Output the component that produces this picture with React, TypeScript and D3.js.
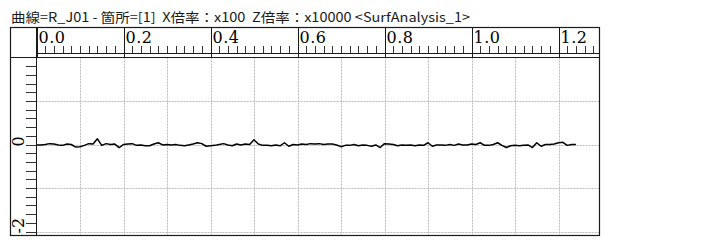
import React from "react";
import * as d3 from "d3";

const TITLE = "曲線=R_J01 - 箇所=[1]  X倍率：x100  Z倍率：x10000 <SurfAnalysis_1>";
const X_LABELS = ["0.0", "0.2", "0.4", "0.6", "0.8", "1.0", "1.2"];
const X_LABEL_VALUES = [0, 0.2, 0.4, 0.6, 0.8, 1.0, 1.2];
const Y_LABELS = ["0", "-2"];
const Y_LABEL_VALUES = [0, -2];
const X_GRID = [0.1, 0.2, 0.3, 0.4, 0.5, 0.6, 0.7, 0.8, 0.9, 1.0, 1.1, 1.2];
const Y_GRID = [1, 0, -1, -2];

const PROFILE_X = [
  0.00, 0.01, 0.02, 0.03, 0.04, 0.05, 0.06, 0.07, 0.08, 0.09,
  0.10, 0.11, 0.12, 0.13, 0.14, 0.15, 0.16, 0.17, 0.18, 0.19,
  0.20, 0.21, 0.22, 0.23, 0.24, 0.25, 0.26, 0.27, 0.28, 0.29,
  0.30, 0.31, 0.32, 0.33, 0.34, 0.35, 0.36, 0.37, 0.38, 0.39,
  0.40, 0.41, 0.42, 0.43, 0.44, 0.45, 0.46, 0.47, 0.48, 0.49,
  0.50, 0.51, 0.52, 0.53, 0.54, 0.55, 0.56, 0.57, 0.58, 0.59,
  0.60, 0.61, 0.62, 0.63, 0.64, 0.65, 0.66, 0.67, 0.68, 0.69,
  0.70, 0.71, 0.72, 0.73, 0.74, 0.75, 0.76, 0.77, 0.78, 0.79,
  0.80, 0.81, 0.82, 0.83, 0.84, 0.85, 0.86, 0.87, 0.88, 0.89,
  0.90, 0.91, 0.92, 0.93, 0.94, 0.95, 0.96, 0.97, 0.98, 0.99,
  1.00, 1.01, 1.02, 1.03, 1.04, 1.05, 1.06, 1.07, 1.08, 1.09,
  1.10, 1.11, 1.12, 1.13, 1.14, 1.15, 1.16, 1.17, 1.18, 1.19,
  1.20, 1.21, 1.22, 1.23, 1.24,
];
const PROFILE_Z = [
  -0.01, -0.01, 0.00, 0.02, 0.01, -0.01, -0.02, 0.01, 0.00, -0.06,
  -0.05, -0.02, 0.02, 0.01, 0.13, -0.02, 0.02, 0.00, 0.01, -0.07,
  0.00, 0.01, 0.02, -0.02, -0.01, -0.03, -0.03, 0.01, 0.04, -0.01,
  0.00, -0.01, 0.00, -0.02, -0.03, -0.01, 0.01, 0.04, 0.02, -0.04,
  -0.03, -0.02, 0.00, 0.02, -0.01, -0.03, 0.01, -0.01, 0.01, 0.00,
  0.11, 0.01, -0.02, -0.02, -0.03, -0.01, -0.03, 0.04, -0.04, 0.00,
  -0.01, 0.01, 0.00, 0.02, 0.01, 0.02, 0.00, 0.01, 0.01, -0.01,
  -0.05, -0.02, -0.02, 0.00, -0.03, -0.01, -0.02, -0.04, -0.01, -0.07,
  0.02, 0.01, 0.00, -0.03, -0.01, -0.02, -0.01, -0.03, -0.01, -0.02,
  0.04, -0.04, -0.01, -0.01, -0.02, 0.00, -0.02, 0.01, -0.01, -0.01,
  0.01, 0.00, 0.04, -0.02, -0.02, 0.00, 0.04, -0.02, -0.07, -0.03,
  -0.02, -0.03, -0.02, -0.01, -0.07, 0.04, -0.04, 0.00, 0.00, 0.01,
  0.04, 0.05, -0.02, 0.00, 0.00,
];

const W = 726;
const H = 248;
const FRAME_L = 10.5;
const FRAME_T = 27.5;
const FRAME_R = 599.5;
const FRAME_B = 235.5;
const RULER_B = 53.5;
const PLOT_T = 57.5;
const PLOT_L = 36.5;

export default function App() {
  const x = d3.scaleLinear().domain([0, 1]).range([PLOT_L, PLOT_L + 435]);
  const y = d3.scaleLinear().domain([2, -2]).range([PLOT_T, PLOT_T + 174]);

  const minorX = d3.range(1, 65).map((i) => i * 0.02).filter((v) => x(v) < FRAME_R - 2);
  const majorX = X_LABEL_VALUES;
  const minorY = d3.range(-10, 10).map((i) => i * 0.2);

  const data = PROFILE_X.map((v, i) => [v, PROFILE_Z[i]] as [number, number]);
  const line = d3
    .line<[number, number]>()
    .x((d) => x(d[0]))
    .y((d) => y(d[1]));

  const ink = "#1a1a1a";
  const grid = "#bdbdbd";

  return (
    <svg
      width={W}
      height={H}
      style={{ position: "absolute", left: 0, top: 0, background: "#fff" }}
    >
      <rect x={0} y={0} width={W} height={H} fill="#fff" />
      <text
        x={11}
        y={22}
        fontFamily="'Noto Sans CJK JP', 'Noto Sans', sans-serif"
        fontSize={13}
        fill={ink}
        textLength={459}
        lengthAdjust="spacingAndGlyphs"
        style={{ whiteSpace: "pre" }}
      >
        {TITLE}
      </text>

      {/* grid */}
      {X_GRID.map((v) => (
        <line
          key={"gx" + v}
          x1={Math.round(x(v)) + 0.5}
          x2={Math.round(x(v)) + 0.5}
          y1={PLOT_T}
          y2={FRAME_B}
          stroke={grid}
          strokeWidth={1}
          strokeDasharray="2,1"
        />
      ))}
      {Y_GRID.map((v) => (
        <line
          key={"gy" + v}
          x1={PLOT_L}
          x2={FRAME_R}
          y1={Math.round(y(v)) + 0.5}
          y2={Math.round(y(v)) + 0.5}
          stroke={grid}
          strokeWidth={1}
          strokeDasharray="2,1"
        />
      ))}

      {/* ruler minor ticks */}
      {minorX.map((v, i) => (
        <line
          key={"mx" + i}
          x1={Math.round(x(v)) + 0.5}
          x2={Math.round(x(v)) + 0.5}
          y1={46}
          y2={RULER_B}
          stroke="#333"
          strokeWidth={1}
        />
      ))}
      {/* ruler major lines */}
      {majorX.map((v) => (
        <line
          key={"Mx" + v}
          x1={Math.round(x(v)) + 0.5}
          x2={Math.round(x(v)) + 0.5}
          y1={FRAME_T}
          y2={PLOT_T}
          stroke={ink}
          strokeWidth={1}
        />
      ))}
      {X_LABELS.map((t, i) => (
        <text
          key={"lx" + t}
          x={x(X_LABEL_VALUES[i]) + 2}
          y={43}
          fontFamily="'DejaVu Serif', serif"
          fontSize={16}
          fontWeight={500}
          letterSpacing={0.5}
          fill="#000"
        >
          {t}
        </text>
      ))}

      {/* left ticks */}
      {minorY.map((v, i) => (
        <line
          key={"my" + i}
          x1={26}
          x2={PLOT_L}
          y1={Math.round(y(v)) + 0.5}
          y2={Math.round(y(v)) + 0.5}
          stroke="#333"
          strokeWidth={1}
        />
      ))}
      {Y_LABELS.map((t, i) => (
        <text
          key={"ly" + t}
          transform={`translate(23.5,${y(Y_LABEL_VALUES[i]) + 2}) rotate(-90)`}
          fontFamily="'DejaVu Serif', serif"
          fontSize={16}
          fill="#000"
        >
          {t}
        </text>
      ))}

      {/* structure lines */}
      <line x1={PLOT_L} x2={FRAME_R} y1={RULER_B} y2={RULER_B} stroke={ink} strokeWidth={1} />
      <line x1={FRAME_L} x2={FRAME_R} y1={PLOT_T} y2={PLOT_T} stroke={ink} strokeWidth={1} />
      <line x1={PLOT_L} x2={PLOT_L} y1={FRAME_T} y2={FRAME_B} stroke={ink} strokeWidth={1} />
      <rect
        x={FRAME_L}
        y={FRAME_T}
        width={FRAME_R - FRAME_L}
        height={FRAME_B - FRAME_T}
        fill="none"
        stroke={ink}
        strokeWidth={1.2}
      />

      {/* profile */}
      <path d={line(data) || ""} fill="none" stroke="#000" strokeWidth={1.5} strokeLinejoin="round" />
    </svg>
  );
}
